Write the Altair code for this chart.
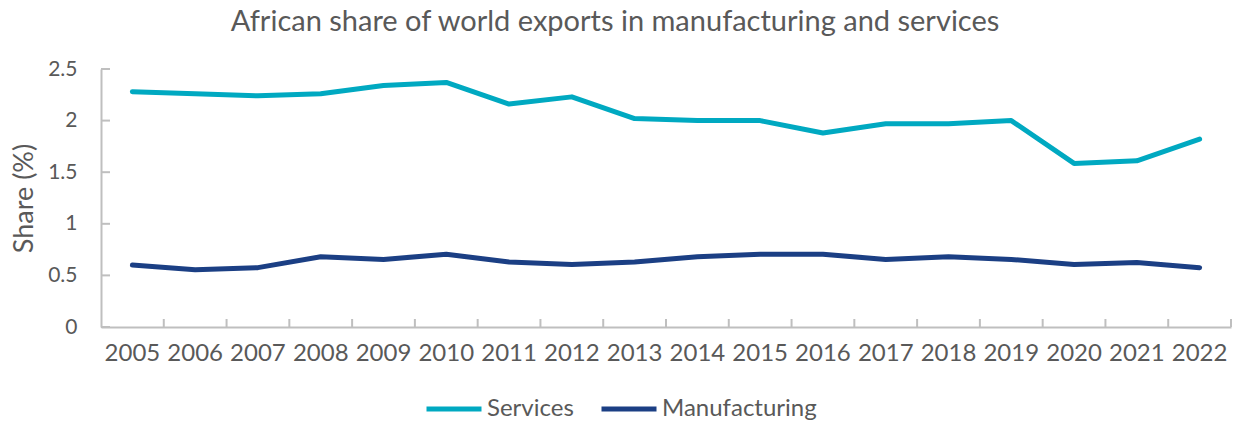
import altair as alt
import pandas as pd

years = ["2005", "2006", "2007", "2008", "2009", "2010", "2011", "2012", "2013",
         "2014", "2015", "2016", "2017", "2018", "2019", "2020", "2021", "2022"]
services = [2.28, 2.26, 2.24, 2.26, 2.34, 2.37, 2.16, 2.23, 2.02,
            2.00, 2.00, 1.88, 1.97, 1.97, 2.00, 1.585, 1.61, 1.82]
manufacturing = [0.60, 0.555, 0.575, 0.68, 0.655, 0.705, 0.63, 0.605, 0.63,
                 0.68, 0.705, 0.705, 0.655, 0.68, 0.655, 0.605, 0.625, 0.575]
series_names = ["Services", "Manufacturing"]
series_colors = ["#00A9C1", "#1B3F84"]
y_ticks = [0, 0.5, 1, 1.5, 2, 2.5]

df = pd.DataFrame({
    "Year": years * 2,
    "Share": services + manufacturing,
    "Series": [series_names[0]] * len(years) + [series_names[1]] * len(years),
})
xticks_df = pd.DataFrame({"Year": years})
yticks_df = pd.DataFrame({"Share": y_ticks})

W, H = 1130, 258
FONT = "Lato"
TXT = "#595959"
AX = "#BFBFBF"

xscale = alt.Scale(type="band", paddingInner=0, paddingOuter=0)
yscale = alt.Scale(domain=[0, 2.5], nice=False)

xaxis = alt.Axis(title=None, labelAngle=0, labelFont=FONT, labelFontSize=24,
                 labelColor=TXT, labelPadding=14, ticks=False, tickSize=0,
                 domainColor=AX, domainWidth=2, grid=False)
yaxis = alt.Axis(title="Share (%)", values=y_ticks, format="~g", labelFont=FONT,
                 labelFontSize=21, labelColor=TXT, labelPadding=24, ticks=False,
                 tickSize=0, domainColor=AX, domainWidth=2, grid=False,
                 titleFont=FONT, titleFontSize=27, titleFontWeight="normal",
                 titleColor=TXT, titlePadding=9)

lines = alt.Chart(df).mark_line(strokeWidth=5, strokeCap="round", strokeJoin="round").encode(
    x=alt.X("Year:O", sort=years, scale=xscale, bandPosition=0.5, axis=xaxis),
    y=alt.Y("Share:Q", scale=yscale, axis=yaxis),
    color=alt.Color("Series:N", sort=series_names,
                    scale=alt.Scale(domain=series_names, range=series_colors),
                    legend=alt.Legend(title=None, orient="none", direction="horizontal",
                                      legendX=323, legendY=310,
                                      symbolType="stroke", symbolStrokeWidth=5,
                                      symbolSize=3025, labelFont=FONT,
                                      labelFontSize=24, labelColor=TXT,
                                      labelOffset=3, columnPadding=17)),
)

xt = alt.Chart(xticks_df).mark_rule(color=AX, strokeWidth=2).encode(
    x=alt.X("Year:O", sort=years, scale=xscale, bandPosition=1, axis=xaxis),
    y=alt.value(H - 8),
    y2=alt.value(H),
)

yt = alt.Chart(yticks_df).mark_rule(color=AX, strokeWidth=2).encode(
    y=alt.Y("Share:Q", scale=yscale, axis=yaxis),
    x=alt.value(0),
    x2=alt.value(9),
)

chart = alt.layer(xt, yt, lines).properties(
    width=W, height=H,
    background="white",
    view=alt.ViewBackground(stroke="transparent", strokeWidth=0),
    title=alt.TitleParams(
        "African share of world exports in manufacturing and services",
        font=FONT, fontSize=29, fontWeight="normal", color=TXT,
        anchor="middle", frame="group", dx=-51, offset=21,
    ),
    autosize=alt.AutoSizeParams(type="none"),
    padding={"left": 101, "top": 69, "right": 5, "bottom": 94},
).configure_view(strokeWidth=0, stroke="transparent")

chart.save("out.html", embed_options={"renderer": "svg", "actions": False})
